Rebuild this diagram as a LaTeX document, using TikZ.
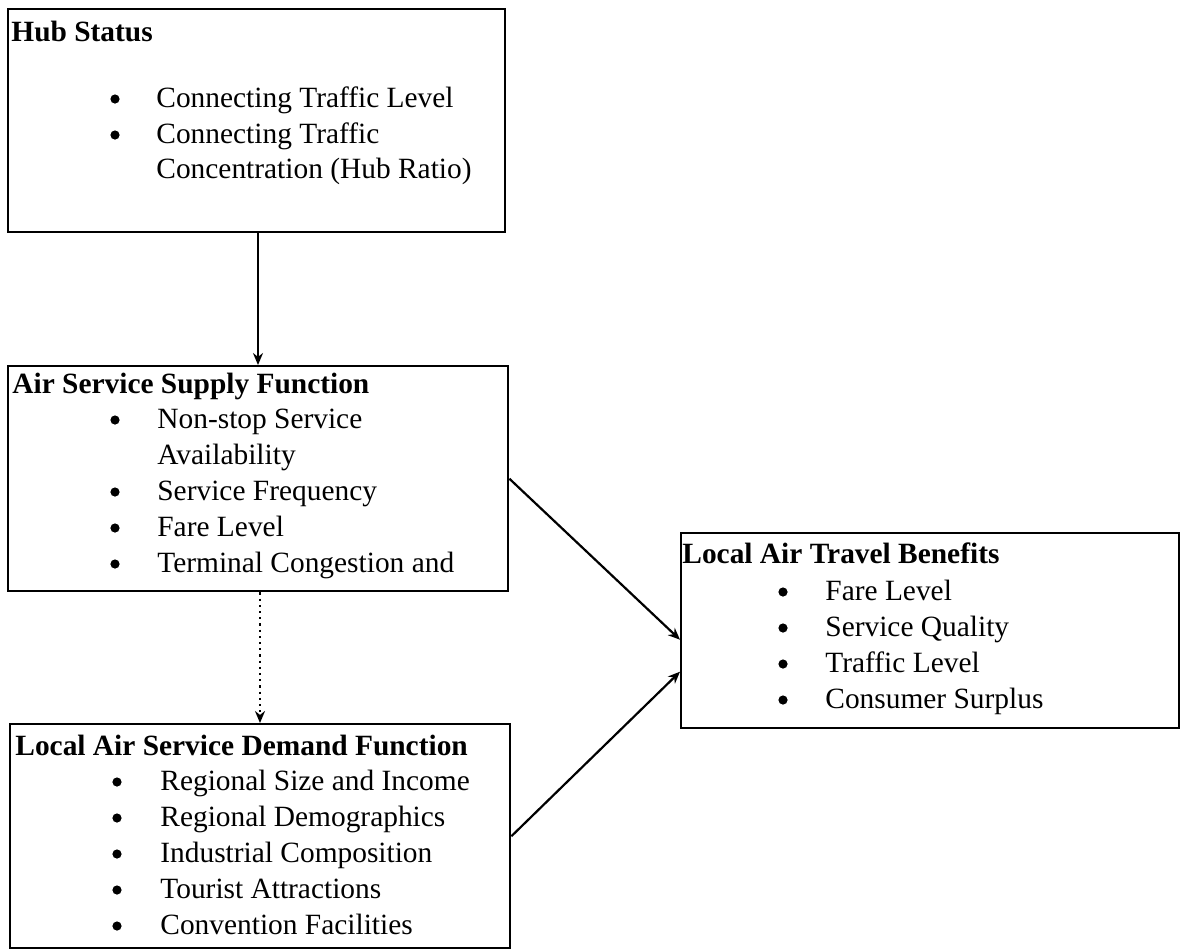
\documentclass[tikz,border=0pt]{standalone}
\usepackage{fontspec}
\setmainfont{Liberation Serif}
\usetikzlibrary{arrows.meta,calc}
\begin{document}
\begin{tikzpicture}[x=0.5pt,y=-0.5pt,
  box/.style={draw, line width=1.2pt, rectangle, inner sep=0pt, anchor=north west},
  ttl/.style={anchor=base west, inner sep=0pt, font=\fontsize{14.7}{17}\selectfont\bfseries},
  itm/.style={anchor=base west, inner sep=0pt, font=\fontsize{14.7}{17}\selectfont},
  bul/.style={circle, fill, inner sep=0pt, minimum size=4.6pt},
  arr/.style={line width=1.1pt, -{Stealth[length=6pt,width=5pt]}}]
\useasboundingbox (0,0) rectangle (1182,949);

% boxes
\node[box, minimum width=248.5pt, minimum height=111.5pt] (hub) at (7,8) {};
\node[box, minimum width=250pt, minimum height=112.5pt] (supply) at (7,365) {};
\node[box, minimum width=250pt, minimum height=112pt] (demand) at (9,723) {};
\node[box, minimum width=249pt, minimum height=97.5pt] (benefits) at (680,532) {};

% Hub Status
\node[ttl] (hubt) at (11,41) {Hub Status};
\foreach \y/\t [count=\i] in {107/Connecting Traffic Level, 143/Connecting Traffic}{
  \node[bul] (hb\i) at (115,\y-8) {};
  \node[itm] (hi\i) at (156,\y) {\t};
}
\node[itm] (hi3) at (156,178) {Concentration (Hub Ratio)};

% Air Service Supply Function
\node[ttl] (supt) at (12,393) {Air Service Supply Function};
\foreach \y/\t [count=\i] in {428/Non-stop Service, 500/Service Frequency, 536/Fare Level, 572/Terminal Congestion and}{
  \node[bul] (sb\i) at (115,\y-8) {};
  \node[itm] (si\i) at (157,\y) {\t};
}
\node[itm] (si5) at (157,464) {Availability};

% Local Air Service Demand Function
\node[ttl] (demt) at (15,755) {Local Air Service Demand Function};
\foreach \y/\t [count=\i] in {790/Regional Size and Income, 826/Regional Demographics, 862/Industrial Composition, 898/Tourist Attractions, 934/Convention Facilities}{
  \node[bul] (db\i) at (117,\y-8) {};
  \node[itm] (di\i) at (160,\y) {\t};
}

% Local Air Travel Benefits
\node[ttl] (bent) at (682,563) {Local Air Travel Benefits};
\foreach \y/\t [count=\i] in {600/Fare Level, 636/Service Quality, 672/Traffic Level, 708/Consumer Surplus}{
  \node[bul] (bb\i) at (783,\y-8) {};
  \node[itm] (bi\i) at (825,\y) {\t};
}

% connectors
\coordinate (ax) at (258,0);
\coordinate (dx) at (260,0);
\draw[arr] (hub.south -| ax) -- (supply.north -| ax);
\draw[arr, dotted] (supply.south -| dx) -- (demand.north -| dx);
\draw[arr] (supply.east) -- ([yshift=-4.5pt]benefits.west);
\draw[arr] (demand.east) -- ([yshift=-20.5pt]benefits.west);
\end{tikzpicture}
\end{document}
